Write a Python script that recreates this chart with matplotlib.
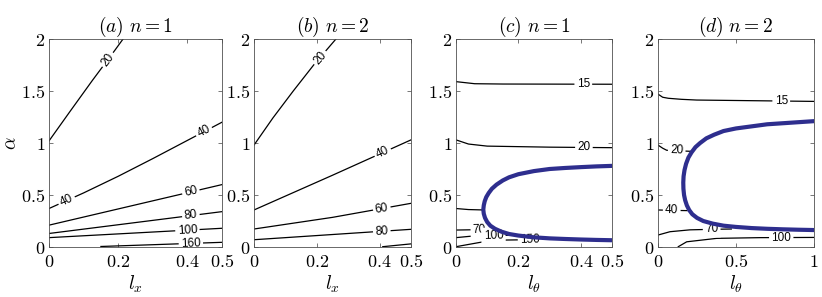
import numpy as np
import matplotlib
matplotlib.use('Agg')
import matplotlib.pyplot as plt

plt.rcParams['mathtext.fontset'] = 'cm'

# ---- panel (a): n = 1, alpha vs l_x
a_levels = [20, 40, 60, 80, 100, 160]
a_x = [[0, 0.06, 0.125, 0.19, 0.214],
       [0, 0.1, 0.2, 0.3, 0.4, 0.5],
       [0, 0.25, 0.5],
       [0, 0.25, 0.5],
       [0, 0.25, 0.5],
       [0.15, 0.3, 0.5]]
a_y = [[1.02, 1.3, 1.6, 1.89, 2.0],
       [0.37, 0.52, 0.68, 0.85, 1.025, 1.2],
       [0.21, 0.405, 0.6],
       [0.13, 0.235, 0.34],
       [0.09, 0.135, 0.18],
       [0.005, 0.022, 0.045]]

# ---- panel (b): n = 2, alpha vs l_x
b_levels = [20, 40, 60, 80, 100]
b_x = [[0, 0.06, 0.125, 0.19, 0.261],
       [0, 0.25, 0.5],
       [0, 0.25, 0.5],
       [0, 0.25, 0.5],
       [0.41, 0.5]]
b_y = [[0.98, 1.24, 1.5, 1.75, 2.0],
       [0.356, 0.69, 1.03],
       [0.173, 0.285, 0.42],
       [0.07, 0.12, 0.17],
       [0.003, 0.03]]

# ---- panel (c): n = 1, alpha vs l_theta
c_levels = [15, 20, 40, 70, 100, 150]
c_x = [[0, 0.03, 0.06, 0.15, 0.5],
       [0, 0.04, 0.1, 0.3, 0.5],
       [0, 0.04, 0.09],
       [0, 0.06, 0.115],
       [0, 0.045, 0.12, 0.195],
       [0, 0.0875, 0.162, 0.237, 0.30]]
c_y = [[1.59, 1.58, 1.57, 1.567, 1.565],
       [1.03, 0.99, 0.97, 0.96, 0.955],
       [0.37, 0.36, 0.356],
       [0.163, 0.166, 0.17],
       [0.09, 0.103, 0.108, 0.115],
       [0.003, 0.05, 0.067, 0.07, 0.078]]
c_bound_x = [0.5, 0.45, 0.4, 0.35, 0.3, 0.25, 0.2, 0.17, 0.15, 0.13, 0.115,
             0.105, 0.097, 0.092, 0.089, 0.0875, 0.089, 0.093, 0.10, 0.11,
             0.125, 0.145, 0.17, 0.2, 0.25, 0.3, 0.35, 0.4, 0.45, 0.5]
c_bound_y = [0.78, 0.775, 0.768, 0.76, 0.75, 0.73, 0.70, 0.67, 0.64, 0.60,
             0.56, 0.52, 0.48, 0.44, 0.40, 0.36, 0.32, 0.28, 0.24, 0.205,
             0.175, 0.148, 0.125, 0.11, 0.093, 0.083, 0.077, 0.072, 0.068,
             0.065]

# ---- panel (d): n = 2, alpha vs l_theta
d_levels = [15, 20, 40, 70, 100]
d_x = [[0, 0.03, 0.066, 0.15, 0.248, 1.0],
       [0, 0.03, 0.056, 0.12, 0.21],
       [0, 0.088, 0.185],
       [0, 0.077, 0.205, 0.344, 0.47],
       [0.13, 0.184, 0.376, 0.654, 1.0]]
d_y = [[1.47, 1.44, 1.43, 1.42, 1.413, 1.40],
       [0.98, 0.95, 0.93, 0.926, 0.92],
       [0.356, 0.352, 0.35],
       [0.115, 0.147, 0.165, 0.17, 0.173],
       [0.003, 0.05, 0.083, 0.09, 0.092]]
d_bound_x = [1.0, 0.9, 0.8, 0.7, 0.6, 0.5, 0.42, 0.36, 0.31, 0.27, 0.24,
             0.215, 0.195, 0.18, 0.17, 0.164, 0.162, 0.163, 0.167, 0.174,
             0.185, 0.2, 0.22, 0.25, 0.29, 0.35, 0.42, 0.5, 0.6, 0.7, 0.8,
             0.9, 1.0]
d_bound_y = [1.21, 1.2, 1.19, 1.18, 1.16, 1.14, 1.115, 1.08, 1.045, 1.0,
             0.96, 0.91, 0.86, 0.8, 0.74, 0.68, 0.62, 0.56, 0.5, 0.45, 0.4,
             0.355, 0.315, 0.28, 0.25, 0.225, 0.205, 0.193, 0.182, 0.175,
             0.17, 0.166, 0.163]

# where the inline labels sit (x position along each line)
a_lab = [[0.17], [0.051, 0.448], [0.41], [0.41], [0.40], [0.41]]
b_lab = [[0.21], [0.41], [0.407], [0.407], []]
c_lab = [[0.408], [0.41], [], [0.075], [0.12], [0.237]]
d_lab = [[0.79], [0.12], [0.088], [0.344], [0.79]]

BLUE = '#2e2e8e'


def label_line(ax, xs, ys, x0, text):
    y0 = np.interp(x0, xs, ys)
    dx = 0.01 * ax.get_xlim()[1]
    p1 = ax.transData.transform((x0 - dx, np.interp(x0 - dx, xs, ys)))
    p2 = ax.transData.transform((x0 + dx, np.interp(x0 + dx, xs, ys)))
    ang = np.degrees(np.arctan2(p2[1] - p1[1], p2[0] - p1[0]))
    ax.text(x0, y0, text, rotation=ang, rotation_mode='anchor',
            ha='center', va='center', fontsize=8.5, family='Liberation Sans',
            bbox=dict(fc='white', ec='none', pad=1.6), zorder=3, clip_on=True)


def setup(ax, xmax, xticks, xlab, title):
    ax.set_xlim(0, xmax)
    ax.set_ylim(0, 2)
    ax.set_xticks(xticks)
    ax.set_xticklabels(['$%g$' % t for t in xticks])
    ax.set_yticks([0, 0.5, 1, 1.5, 2])
    ax.set_yticklabels(['$%g$' % t for t in [0, 0.5, 1, 1.5, 2]])
    ax.tick_params(direction='in', top=True, right=True, length=3,
                   width=0.5, color='#404040', labelsize=13)
    ax.tick_params(axis='x', pad=4)
    ax.tick_params(axis='y', pad=2.5)
    for s in ax.spines.values():
        s.set_linewidth(0.6)
        s.set_color('#505050')
    ax.set_xlabel(xlab, fontsize=14, labelpad=2)
    ax.set_title(title, fontsize=14, pad=5)


fig = plt.figure(figsize=(8.22, 2.97), dpi=100)
H = 208 / 297
B = 50 / 297
axa = fig.add_axes([49 / 822, B, 173 / 822, H])
axb = fig.add_axes([254 / 822, B, 157 / 822, H])
axc = fig.add_axes([456 / 822, B, 156 / 822, H])
axd = fig.add_axes([658 / 822, B, 156 / 822, H])

panels = [
    (axa, a_levels, a_x, a_y, a_lab, 0.5, [0, 0.2, 0.4, 0.5], r'$l_x$', r'$(a)\ n=1$'),
    (axb, b_levels, b_x, b_y, b_lab, 0.5, [0, 0.2, 0.4, 0.5], r'$l_x$', r'$(b)\ n=2$'),
    (axc, c_levels, c_x, c_y, c_lab, 0.5, [0, 0.2, 0.4, 0.5], r'$l_\theta$', r'$(c)\ n=1$'),
    (axd, d_levels, d_x, d_y, d_lab, 1.0, [0, 0.5, 1], r'$l_\theta$', r'$(d)\ n=2$'),
]

for ax, levels, xs, ys, labs, xmax, xticks, xlab, title in panels:
    setup(ax, xmax, xticks, xlab, title)
    for lev, x, y, lx in zip(levels, xs, ys, labs):
        ax.plot(x, y, color='black', lw=0.9, zorder=2)
        for x0 in lx:
            label_line(ax, x, y, x0, str(lev))

axc.plot(c_bound_x, c_bound_y, color=BLUE, lw=3, zorder=4, solid_joinstyle='round')
axd.plot(d_bound_x, d_bound_y, color=BLUE, lw=3, zorder=4, solid_joinstyle='round')

axa.set_ylabel(r'$\alpha$', fontsize=14, labelpad=1)

fig.savefig('out.png', dpi=100)
